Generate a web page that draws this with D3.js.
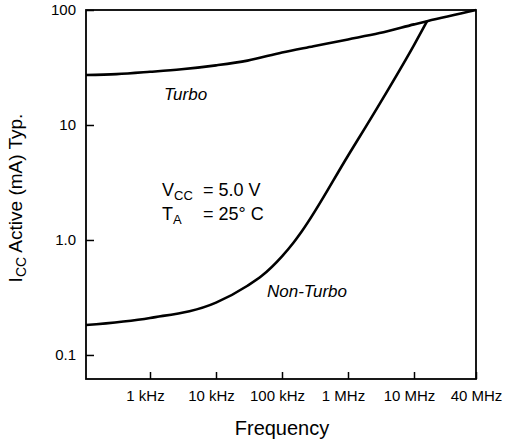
<!DOCTYPE html>
<html>
<head>
<meta charset="utf-8">
<script src="https://cdn.jsdelivr.net/npm/d3@7"></script>
<style>
  body { margin: 0; background: #fff; }
  svg text { font-family: "Liberation Sans", Arial, Helvetica, sans-serif; fill: #000; }
</style>
</head>
<body>
<div id="chart"></div>
<script>
'use strict';

// frequencies (Hz) where the curves were read
const turboFreq = [100, 300, 1e3, 3e3, 1e4, 3e4, 1e5, 3e5, 1e6, 3e6, 1e7, 1.34e7, 4e7];
const turboIcc = [27.2, 27.7, 29.0, 30.5, 33.0, 36.3, 42.7, 48.4, 55.5, 63, 75, 80, 100];

const nonTurboFreq = [100, 1e3, 1e4, 3e4, 5e4, 1e5, 1.5e5, 2e5, 1e6, 3e6, 1e7, 1.34e7];
const nonTurboIcc = [0.182, 0.21, 0.285, 0.40, 0.49, 0.72, 0.95, 1.19, 5.4, 15.2, 49.6, 80];

const xTicks = [1e3, 1e4, 1e5, 1e6, 1e7, 4e7];
const xTickLabels = ['1 kHz', '10 kHz', '100 kHz', '1 MHz', '10 MHz', '40 MHz'];
const yTicks = [0.1, 1, 10, 100];
const yTickLabels = ['0.1', '1.0', '10', '100'];

drawChart('#chart');

function drawChart(el) {
  const width = 505;
  const height = 442;
  const left = 86, right = 476, top = 10, bottom = 379;

  const svg = d3.select(el)
    .append('svg')
    .attr('width', width)
    .attr('height', height);

  // el eje x del original no es log puro: 40 MHz cae al final
  const scaleX = d3.scaleLog()
    .domain([100, 1e3, 1e7, 4e7])
    .range([left, 150, 414, right]);

  const scaleY = d3.scaleLog()
    .domain([0.0618, 100])
    .range([bottom, top]);

  // x axis
  const xAxis = d3.axisBottom(scaleX)
    .tickValues(xTicks)
    .tickFormat((d, i) => xTickLabels[i])
    .tickSize(-7)
    .tickSizeOuter(0)
    .tickPadding(11);
  const gx = svg.append('g')
    .attr('transform', `translate(0, ${bottom})`)
    .call(xAxis);
  gx.select('.domain').remove();
  gx.selectAll('line').attr('stroke', '#000').attr('stroke-width', 1.5);
  gx.selectAll('text')
    .attr('font-size', 15)
    .attr('dx', (d, i) => i < xTicks.length - 1 ? -5 : 0);

  // y axis
  const yAxis = d3.axisLeft(scaleY)
    .tickValues(yTicks)
    .tickFormat((d, i) => yTickLabels[i])
    .tickSize(-8)
    .tickSizeOuter(0)
    .tickPadding(10);
  const gy = svg.append('g')
    .attr('transform', `translate(${left}, 0)`)
    .call(yAxis);
  gy.select('.domain').remove();
  gy.selectAll('line').attr('stroke', '#000').attr('stroke-width', 1.5);
  gy.selectAll('text').attr('font-size', 15);

  // marco
  svg.append('rect')
    .attr('x', left)
    .attr('y', top)
    .attr('width', right - left)
    .attr('height', bottom - top)
    .attr('fill', 'none')
    .attr('stroke', '#000')
    .attr('stroke-width', 1.8);

  const line = d3.line()
    .x(d => scaleX(d[0]))
    .y(d => scaleY(d[1]))
    .curve(d3.curveMonotoneX);

  svg.append('path')
    .datum(d3.zip(turboFreq, turboIcc))
    .attr('d', line)
    .attr('fill', 'none')
    .attr('stroke', '#000')
    .attr('stroke-width', 2.6);

  svg.append('path')
    .datum(d3.zip(nonTurboFreq, nonTurboIcc))
    .attr('d', line)
    .attr('fill', 'none')
    .attr('stroke', '#000')
    .attr('stroke-width', 2.6);

  // etiquetas de curvas
  svg.append('text')
    .attr('x', 164).attr('y', 100)
    .attr('font-size', 17)
    .attr('font-style', 'italic')
    .text('Turbo');

  svg.append('text')
    .attr('x', 267).attr('y', 297)
    .attr('font-size', 17)
    .attr('font-style', 'italic')
    .text('Non-Turbo');

  // condiciones
  const cond = svg.append('text')
    .attr('x', 162).attr('y', 196)
    .attr('font-size', 18);
  cond.append('tspan').text('V');
  cond.append('tspan').attr('font-size', 13).attr('dy', 4).text('CC');
  cond.append('tspan').attr('x', 203).attr('dy', -4).text('= 5.0 V');

  const cond2 = svg.append('text')
    .attr('x', 162).attr('y', 220)
    .attr('font-size', 18);
  cond2.append('tspan').text('T');
  cond2.append('tspan').attr('font-size', 13).attr('dy', 4).text('A');
  cond2.append('tspan').attr('x', 203).attr('dy', -4).text('= 25° C');

  // titulos de ejes
  svg.append('text')
    .attr('x', 282).attr('y', 435)
    .attr('text-anchor', 'middle')
    .attr('font-size', 20)
    .text('Frequency');

  const yl = svg.append('text')
    .attr('transform', 'translate(22, 198) rotate(-90)')
    .attr('text-anchor', 'middle')
    .attr('font-size', 19);
  yl.append('tspan').text('I');
  yl.append('tspan').attr('font-size', 14).attr('dy', 4).text('CC');
  yl.append('tspan').attr('dy', -4).text(' Active (mA) Typ.');
}
</script>
</body>
</html>
